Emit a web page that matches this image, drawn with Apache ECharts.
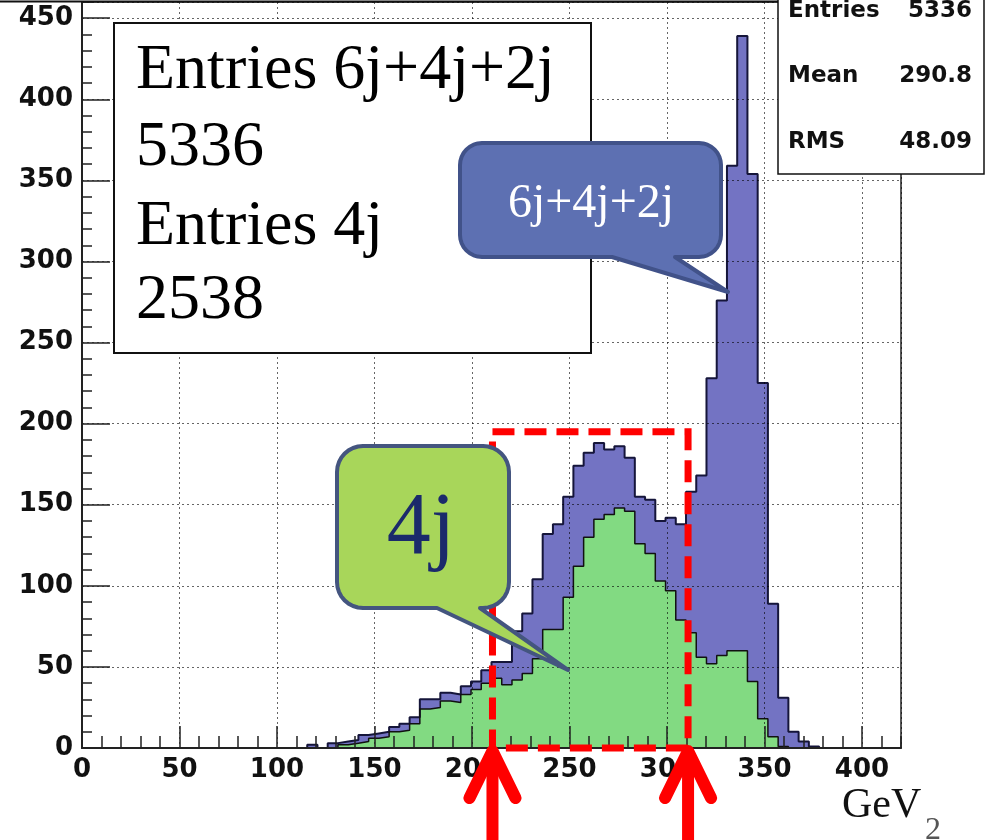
<!DOCTYPE html>
<html><head><meta charset="utf-8">
<script src="https://cdn.jsdelivr.net/npm/echarts@6/dist/echarts.min.js"></script>
<style>html,body{margin:0;padding:0;background:#fff}#c{width:985px;height:840px}</style>
</head><body><div id="c"></div>
<script>
// ---- histogram definition: 0..420 GeV in 80 bins ----
const histMin = 0, histMax = 420, nBins = 80;
const binWidth = (histMax - histMin) / nBins; // 5.25

// 6j+4j+2j (blue), counts for consecutive bins starting at bin index blueFirstBin
const blueFirstBin = 22;
const blueCounts = [2,0,3,4,5,8,9,10,13,15,
  19,30,30,34,33,38,41,48,53,53,
  72,83,104,132,138,155,174,182,188,184,
  186,179,155,153,140,142,138,158,168,228,
  276,359,439,354,225,89,31,10,4,1];

// 4j (green)
const greenFirstBin = 25;
const greenCounts = [2,3,4,6,7,10,11,15,24,25,
  29,28,33,36,40,43,39,42,46,55,
  73,73,93,112,130,141,144,148,146,126,
  120,103,97,79,71,56,52,57,60,60,
  41,18,7,1];

const xTickLabels = ['0','50','100','150','200','250','300','350','400'];
const yTickLabels = ['0','50','100','150','200','250','300','350','400','450'];

const entriesLines = ['Entries 6j+4j+2j','5336','Entries 4j','2538'];
const statsNames = ['Entries','Mean','RMS'];
const statsValues = ['5336','290.8','48.09'];
const cutWindowGeV = [210.5, 310.8];
const cutBoxTop = 195;

function steps(first, counts){
  const pts = [[histMin + first*binWidth, 0]];
  counts.forEach((c,i)=>pts.push([histMin + (first+i)*binWidth, c]));
  pts.push([histMin + (first+counts.length)*binWidth, 0]);
  return pts;
}

const chart = echarts.init(document.getElementById('c'), null, {renderer:'canvas'});
const lab = {fontFamily:'DejaVu Sans', fontWeight:'bold', fontSize:26, color:'#111'};
const gridDots = {type:[2,3], color:'rgba(0,0,0,0.6)', width:1};

chart.setOption({
  animation:false,
  grid:{left:82,right:84,top:2,bottom:92,show:true,borderColor:'#222',borderWidth:1.5,backgroundColor:'transparent'},
  xAxis:[{
    type:'value', min:histMin, max:histMax, interval:50, z:3,
    axisLine:{show:true,onZero:false,lineStyle:{color:'#222',width:2}},
    axisTick:{inside:true,length:22,lineStyle:{color:'#222',width:1.5}},
    axisLabel:Object.assign({},lab,{margin:9,showMaxLabel:false,
      formatter:v=>xTickLabels.indexOf(String(v))>=0?String(v):''}),
    splitLine:{show:true,lineStyle:gridDots}
  },{
    type:'value', min:histMin, max:histMax, interval:10, position:'bottom', z:3,
    axisLine:{show:false}, axisLabel:{show:false}, splitLine:{show:false},
    axisTick:{inside:true,length:12,lineStyle:{color:'#222',width:1.5}}
  }],
  yAxis:[{
    type:'value', min:0, max:460, interval:50, z:3,
    axisLine:{show:true,onZero:false,lineStyle:{color:'#222',width:2}},
    axisTick:{inside:true,length:28,lineStyle:{color:'#222',width:1.5}},
    axisLabel:Object.assign({},lab,{margin:9,showMaxLabel:false,
      formatter:v=>yTickLabels.indexOf(String(v))>=0?String(v):''}),
    splitLine:{show:true,lineStyle:gridDots}
  },{
    type:'value', min:0, max:460, interval:10, position:'left', z:3,
    axisLine:{show:false}, axisLabel:{show:false}, splitLine:{show:false},
    axisTick:{inside:true,length:10,lineStyle:{color:'#222',width:1.5}}
  }],
  series:[{
    name:'6j+4j+2j', type:'line', step:'end', xAxisIndex:0, yAxisIndex:0,
    data:steps(blueFirstBin, blueCounts), symbol:'none', z:2,
    lineStyle:{color:'#15153a',width:2}, areaStyle:{color:'#7373c3',opacity:1}
  },{
    name:'4j', type:'line', step:'end', xAxisIndex:0, yAxisIndex:0,
    data:steps(greenFirstBin, greenCounts), symbol:'none', z:2,
    lineStyle:{color:'#111',width:1.5}, areaStyle:{color:'#82da82',opacity:1}
  }]
});

const P = (x,y)=>chart.convertToPixel({gridIndex:0},[x,y]);
const pTL = P(cutWindowGeV[0], cutBoxTop), pBR = P(cutWindowGeV[1], 0);

function txt(t,x,y,font,fill,align){
  return {type:'text', z:111, style:{text:t,x:x,y:y,font:font,fill:fill,
    align:align||'left',textAlign:align||'left',verticalAlign:'middle',textVerticalAlign:'middle'}};
}
function arc(pts,cx,cy,r,a0,a1){
  for(let k=0;k<=8;k++){const a=(a0+(a1-a0)*k/8)*Math.PI/180;pts.push([cx+r*Math.cos(a),cy+r*Math.sin(a)]);}
}
function calloutPts(x1,y1,x2,y2,r,b1,b2,tx,ty){
  const p=[];
  arc(p,x2-r,y1+r,r,-90,0);
  arc(p,x2-r,y2-r,r,0,90);
  p.push([b2,y2],[tx,ty],[b1,y2]);
  arc(p,x1+r,y2-r,r,90,180);
  arc(p,x1+r,y1+r,r,180,270);
  return p;
}
const g = [];
g.push({type:'line', z:100, shape:{x1:0,y1:1.5,x2:778,y2:1.5}, style:{stroke:'#111',lineWidth:2}});
g.push({type:'rect', z:100, shape:{x:114,y:23,width:477,height:330}, style:{fill:'#fff',stroke:'#111',lineWidth:2}});
const eY=[71,148,227,301];
entriesLines.forEach((t,i)=>g.push(txt(t,136,eY[i],'64px "Liberation Serif"','#000')));
g.push({type:'rect', z:100, shape:{x:778,y:-4,width:206,height:178}, style:{fill:'#fff',stroke:'#111',lineWidth:1.5}});
const sY=[11,76,142];
statsNames.forEach((t,i)=>{
  g.push(txt(t,788,sY[i],'bold 23px "DejaVu Sans"','#111'));
  g.push(txt(statsValues[i],972,sY[i],'bold 23px "DejaVu Sans"','#111','right'));
});
// red dashed cut window
g.push({type:'rect', z:105, shape:{x:pTL[0],y:pTL[1],width:pBR[0]-pTL[0],height:pBR[1]-pTL[1]},
  style:{fill:null,stroke:'#ff0000',lineWidth:7,lineDash:[22,10]}});
// callouts
g.push({type:'polygon', z:110, shape:{points:calloutPts(460,143,721,257,22,612,675,728,292)},
  style:{fill:'#5d70b2',stroke:'#415289',lineWidth:4,lineJoin:'round'}});
g.push(txt('6j+4j+2j',591,204,'48px "Liberation Serif"','#fff','center'));
g.push({type:'polygon', z:110, shape:{points:calloutPts(337,446,509,608,26,437,480,568,670)},
  style:{fill:'#a8d65a',stroke:'#44557f',lineWidth:4,lineJoin:'round'}});
g.push(txt('4j',421,530,'88px "Liberation Serif"','#1b2a6b','center'));
// arrows
[pTL[0], pBR[0]].forEach(ax=>{
  g.push({type:'polyline', z:120, shape:{points:[[ax-23,798],[ax,751],[ax+23,798]]},
    style:{stroke:'#ff0000',lineWidth:12,lineCap:'round',lineJoin:'round',fill:null}});
  g.push({type:'line', z:120, shape:{x1:ax,y1:754,x2:ax,y2:850},
    style:{stroke:'#ff0000',lineWidth:12}});
});
g.push(txt('GeV',842,806,'42px "Liberation Serif"','#111'));
g.push(txt('2',925,831,'32px "Liberation Serif"','#555'));
chart.setOption({graphic:g});
</script></body></html>
